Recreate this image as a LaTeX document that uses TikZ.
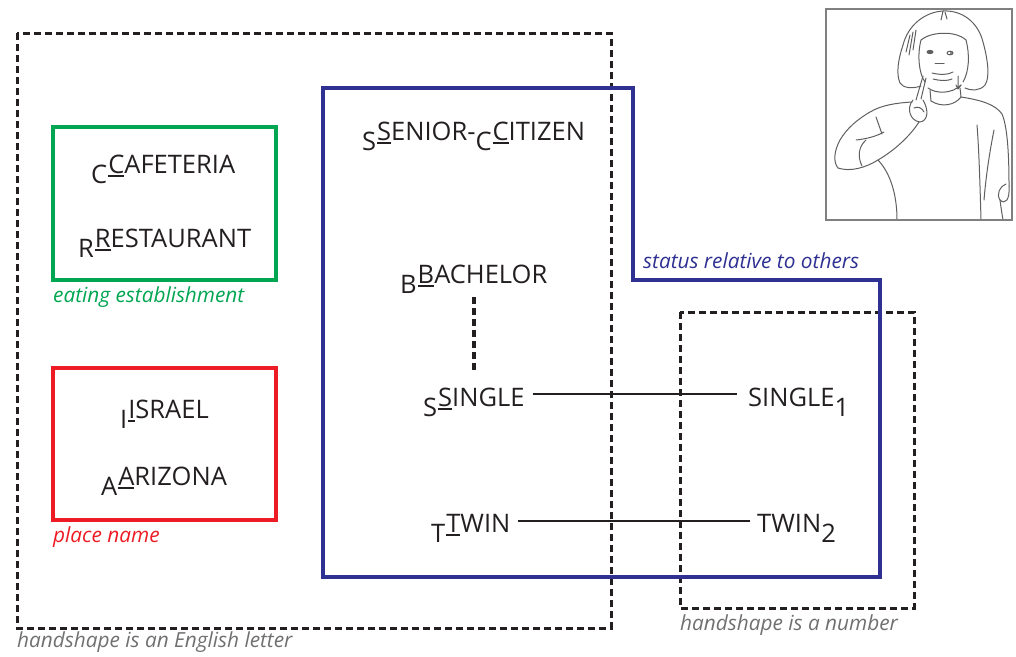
\documentclass[tikz,border=0pt]{standalone}
\usepackage{fontspec}
\setmainfont{Open Sans}
\definecolor{sgreen}{RGB}{0,166,81}
\definecolor{sred}{RGB}{237,28,36}
\definecolor{sblue}{RGB}{46,49,146}
\definecolor{sgray}{RGB}{112,112,112}
\definecolor{ink}{RGB}{35,31,32}
\definecolor{pencil}{RGB}{95,95,95}
% letter underlined with a fixed rule
\newcommand\ulet[1]{\setbox0\hbox{#1}\rlap{\rule[-4pt]{\wd0}{1.8pt}}\box0}
% handshape letter lowered before the gloss, first letter underlined
\newcommand\hsign[3]{\raisebox{-0.42em}{#1}\kern1pt\ulet{#2}#3}
\newcommand\lowr[1]{\raisebox{-0.42em}{#1}}
\tikzset{
  gloss/.style={inner sep=0pt, anchor=base west, text=ink, font=\fontsize{25.5}{29}\selectfont},
  caption/.style={inner sep=0pt, anchor=base west, font=\fontsize{20.8}{24}\selectfont\itshape},
  groupbox/.style={draw=ink, line width=3pt, dash pattern=on 7pt off 4pt},
  link/.style={draw=ink, line width=2.5pt},
  vlink/.style={draw=ink, line width=4pt, dash pattern=on 7pt off 4pt},
  sketch/.style={draw=pencil, line width=1pt, line cap=round, line join=round},
}
\begin{document}
\begin{tikzpicture}[x=1pt,y=-1pt]
\useasboundingbox (0,0) rectangle (1016,656);

% dashed groupings
\draw[groupbox] (17,33) rectangle (611,628);
\draw[groupbox] (680,312) rectangle (914,608);

% coloured groupings
\draw[sgreen, line width=4pt] (53,127) rectangle (276,280);
\draw[sred, line width=4pt] (53,368) rectangle (276,520);
\draw[sblue, line width=4pt, line join=miter]
  (323,88) -- (633,88) -- (633,280) -- (880,280) -- (880,577) -- (323,577) -- cycle;

% captions
\node[caption, text=sgray] (capA) at (17,647) {handshape is an English letter};
\node[caption, text=sgray] (capB) at (680,630) {handshape is a number};
\node[caption, text=sgreen] (capC) at (53,302) {eating establishment};
\node[caption, text=sred] (capD) at (53,542) {place name};
\node[caption, text=sblue] (capE) at (643,268) {status relative to others};

% glosses
\node[gloss] (caf) at (91,173) {\hsign{C}{C}{AFETERIA}};
\node[gloss] (rest) at (78,247) {\hsign{R}{R}{ESTAURANT}};
\node[gloss] (isr) at (120,418) {\hsign{I}{I}{SRAEL}};
\node[gloss] (ariz) at (101,485) {\hsign{A}{A}{RIZONA}};
\node[gloss] (sen) at (362,140) {\hsign{S}{S}{ENIOR-}\hsign{C}{C}{ITIZEN}};
\node[gloss] (bach) at (400,283) {\hsign{B}{B}{ACHELOR}};
\node[gloss] (sing) at (423,406) {\hsign{S}{S}{INGLE}};
\node[gloss] (twin) at (431,532) {\hsign{T}{T}{WIN}};
\node[gloss] (singn) at (748,406) {SINGLE\lowr{1}};
\node[gloss] (twinn) at (757,532) {TWIN\lowr{2}};

% connectors
\draw[vlink, shorten <=3pt, shorten >=16pt] (bach.south) -- (bach.south |- sing.north);
\draw[link, shorten <=8pt, shorten >=11pt] ([yshift=12pt]sing.base east) -- ([yshift=12pt]singn.base west);
\draw[link, shorten <=7pt, shorten >=7pt] ([yshift=11pt]twin.base east) -- ([yshift=11pt]twinn.base west);

% photo of the signer
\begin{scope}
\clip (827,10) rectangle (1011,219);
% hair
\draw[sketch] (921,86) .. controls (912,89) and (903,88) .. (900,83) .. controls (896,74) and (898,60) .. (903,45) .. controls (908,25) and (925,12) .. (943,11);
\draw[sketch] (943,11) .. controls (962,10) and (978,22) .. (983,42) .. controls (988,60) and (990,78) .. (985,85) .. controls (980,91) and (971,91) .. (965,88);
\draw[sketch] (943,11) -- (941,20) (945,12) -- (947,19);
\draw[sketch] (910,35) -- (906,52) (913,32) -- (909,55) (916,30) -- (913,50);
% face
\draw[sketch] (921,40) .. controls (930,32) and (955,30) .. (966,40);
\draw[sketch] (921,40) .. controls (917,55) and (919,74) .. (925,82);
\draw[sketch] (966,40) .. controls (970,55) and (969,72) .. (963,82);
\draw[sketch] (928,88) .. controls (936,94) and (952,94) .. (961,85);
\draw[sketch, fill=pencil] (930,52) ellipse (3pt and 1.6pt);
\draw[sketch] (950,53) ellipse (3pt and 1.8pt);
\fill[pencil] (951,53) circle (1.2pt);
\draw[sketch] (935,63) -- (944,63);
\draw[sketch] (932,73) .. controls (940,75) and (948,75) .. (953,72);
\draw[sketch] (933,79) .. controls (940,81) and (948,81) .. (952,79);
\draw[sketch] (958,76) -- (958,88) (956,85) -- (958,89) -- (961,85);
% neck and collar
\draw[sketch] (930,90) -- (931,101);
\draw[sketch] (960,88) -- (961,97);
\draw[sketch] (931,101) .. controls (942,108) and (955,105) .. (961,97);
% hand with raised index finger
\draw[sketch] (923,76) -- (916,100) (926,78) -- (921,99);
\draw[sketch] (913,100) .. controls (906,108) and (910,121) .. (920,122) .. controls (928,121) and (929,110) .. (923,100);
\draw[sketch] (914,108) .. controls (918,106) and (922,108) .. (924,112);
% arm
\draw[sketch] (912,102) .. controls (896,103) and (882,105) .. (870,112) .. controls (858,119) and (847,128) .. (840,140) .. controls (834,151) and (833,162) .. (838,168);
\draw[sketch] (838,168) .. controls (850,172) and (865,168) .. (878,160) .. controls (895,150) and (910,136) .. (919,122);
\draw[sketch] (862,166) .. controls (857,156) and (859,146) .. (866,140);
\draw[sketch] (856,140) .. controls (865,139) and (875,137) .. (884,132);
\draw[sketch] (876,117) -- (882,134);
% torso
\draw[sketch] (961,97) .. controls (980,100) and (995,104) .. (1002,114) .. controls (1008,128) and (1009,160) .. (1009,186);
\draw[sketch] (1009,186) .. controls (1010,200) and (1005,205) .. (1000,200) .. controls (996,194) and (1000,186) .. (1006,184);
\draw[sketch] (994,130) .. controls (990,150) and (986,175) .. (984,200);
\draw[sketch] (977,125) .. controls (979,150) and (980,185) .. (981,220);
\draw[sketch] (878,160) .. controls (892,175) and (897,198) .. (897,220);
\draw[sketch] (1000,200) .. controls (1001,208) and (1002,214) .. (1003,220);
\end{scope}
\draw[draw={rgb,255:red,128;green,128;blue,128}, line width=2.5pt] (826,9) rectangle (1012,220);
\end{tikzpicture}
\end{document}
